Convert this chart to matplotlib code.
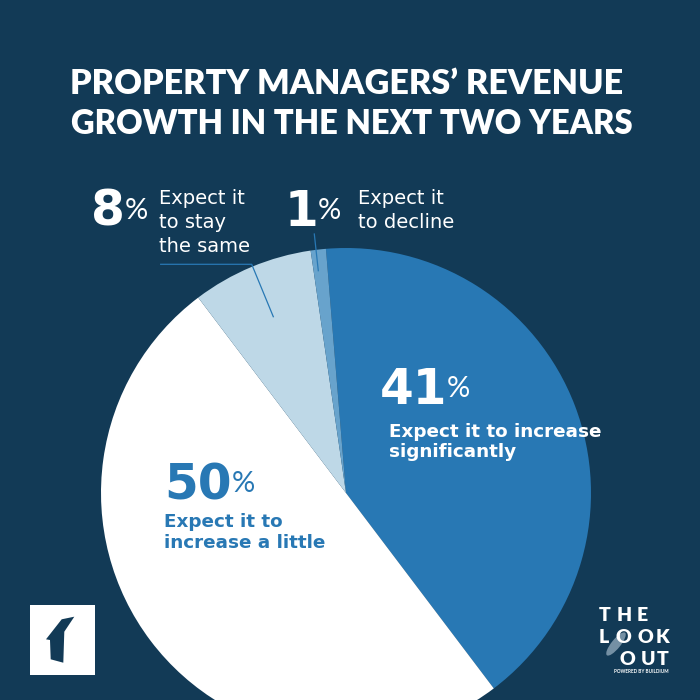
import matplotlib
matplotlib.use("Agg")
import matplotlib.pyplot as plt
from matplotlib.patches import Polygon, Rectangle, Ellipse

# ---- data ----
categories = ["Expect it to increase significantly", "Expect it to increase a little",
              "Expect it to stay the same", "Expect it to decline"]
values = [41, 50, 8, 1]
value_labels = ["41", "50", "8", "1"]
title_lines = ["PROPERTY MANAGERS\u2019 REVENUE", "GROWTH IN THE NEXT TWO YEARS"]

BG = "#123a56"
BLUE = "#2878b4"
MID = "#68a3cc"
LIGHT = "#bed8e7"
WHITE = "#ffffff"
colors = [BLUE, WHITE, LIGHT, MID]

TFONT = "Lato"
BFONT = "DejaVu Sans"
H = 700


def Y(py):
    return H - py


fig = plt.figure(figsize=(7, 7), dpi=100, facecolor=BG)
ax = fig.add_axes([0, 0, 1, 1])
ax.set_facecolor(BG)

ax.pie(values, colors=colors, startangle=94.7, counterclock=False,
       center=(346, Y(493)), radius=245, wedgeprops=dict(linewidth=0))
ax.set_xlim(0, 700)
ax.set_ylim(0, 700)
ax.set_aspect("equal")
ax.axis("off")

# ---- title ----
ax.text(347, Y(94), title_lines[0], ha="center", va="baseline", color=WHITE,
        fontsize=24.6, fontweight="heavy", family=TFONT)
ax.text(352, Y(134), title_lines[1], ha="center", va="baseline", color=WHITE,
        fontsize=23.6, fontweight="heavy", family=TFONT)


def big_value(label, pct_x, base, color):
    ax.text(pct_x, Y(base), label, ha="right", va="baseline", color=color,
            fontsize=35, fontweight="bold", family=BFONT)
    ax.text(pct_x, Y(base - 7), "%", ha="left", va="baseline", color=color,
            fontsize=21, family=TFONT)


# ---- 8% label ----
big_value(value_labels[2], 125, 226, WHITE)
for i, line in enumerate(["Expect it", "to stay", "the same"]):
    ax.text(159, Y(204.5 + i * 23.7), line, ha="left", va="baseline", color=WHITE,
            fontsize=14, family=BFONT)
ax.plot([160.7, 251.7, 273.3], [Y(264.3), Y(264.3), Y(316.7)], color=BLUE, lw=0.9)

# ---- 1% label ----
big_value(value_labels[3], 318, 226, WHITE)
for i, line in enumerate(["Expect it", "to decline"]):
    ax.text(358, Y(204.5 + i * 23.7), line, ha="left", va="baseline", color=WHITE,
            fontsize=14, family=BFONT)
ax.plot([314.3, 318.3], [Y(234), Y(270.7)], color=BLUE, lw=0.9)

# ---- 41% label ----
big_value(value_labels[0], 447, 404, WHITE)
ax.text(389, Y(437), "Expect it to increase", ha="left", va="baseline", color=WHITE,
        fontsize=13.2, fontweight="bold", family=BFONT)
ax.text(389, Y(457), "significantly", ha="left", va="baseline", color=WHITE,
        fontsize=13.2, fontweight="bold", family=BFONT)

# ---- 50% label ----
big_value(value_labels[1], 232, 499, BLUE)
ax.text(164, Y(527), "Expect it to", ha="left", va="baseline", color=BLUE,
        fontsize=13.2, fontweight="bold", family=BFONT)
ax.text(164, Y(548), "increase a little", ha="left", va="baseline", color=BLUE,
        fontsize=13.2, fontweight="bold", family=BFONT)

# ---- left logo ----
ax.add_patch(Rectangle((30, Y(675)), 65, 70, facecolor=WHITE, edgecolor="none"))
logo_pts = [(46, 639.3), (61.7, 619.3), (74.3, 616.7), (64.3, 631.7),
            (63.3, 662.7), (50.7, 659.3), (50, 640)]
ax.add_patch(Polygon([(x, Y(y)) for x, y in logo_pts], closed=True,
                     facecolor=BG, edgecolor="none"))

# ---- right logo ----
ax.add_patch(Ellipse((616, Y(644)), 29, 9, angle=51, facecolor="#8ea6b8",
                     edgecolor="none", alpha=0.8))
logo_rows = [("THE", [600, 618, 638], 621),
             ("LOOK", [600, 617, 638, 657], 643),
             ("OUT", [620, 642, 658], 665)]
for word, xs, base in logo_rows:
    for ch, x in zip(word, xs):
        ax.text(x - 1, Y(base), ch, ha="left", va="baseline", color=WHITE,
                fontsize=14, fontweight="heavy", family=TFONT)
ax.text(641, Y(673), "POWERED BY BUILDIUM", ha="center", va="baseline", color=WHITE,
        fontsize=3.3, fontweight="bold", family=TFONT)

fig.savefig("out.png", dpi=100, facecolor=BG)
